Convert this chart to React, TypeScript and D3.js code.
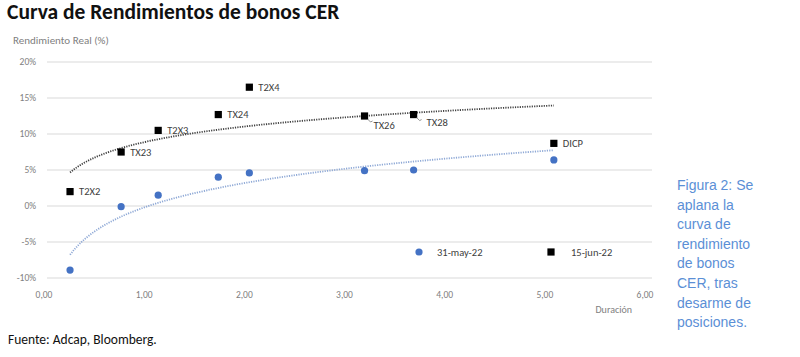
import React from "react";
import * as d3 from "d3";

const bonds = ["T2X2", "TX23", "T2X3", "TX24", "T2X4", "TX26", "TX28", "DICP"];
const duration = [0.26, 0.77, 1.14, 1.74, 2.05, 3.2, 3.69, 5.09];
const yieldJun = [2.0, 7.5, 10.5, 12.7, 16.5, 12.5, 12.7, 8.7];
const yieldMay = [-8.9, -0.1, 1.5, 4.0, 4.6, 4.9, 5.0, 6.4];
const yTicks = [-10, -5, 0, 5, 10, 15, 20];
const xTicks = [0, 1, 2, 3, 4, 5, 6];
const seriesNames = ["31-may-22", "15-jun-22"];
const noteLines = ["Figura 2: Se", "aplana la", "curva de", "rendimiento", "de bonos", "CER, tras", "desarme de", "posiciones."];

function logFit(xs: number[], ys: number[]) {
  const lx = xs.map(Math.log);
  const mx = d3.mean(lx)!;
  const my = d3.mean(ys)!;
  let sxy = 0, sxx = 0;
  lx.forEach((v, i) => { sxy += (v - mx) * (ys[i] - my); sxx += (v - mx) ** 2; });
  const b = sxy / sxx;
  const a = my - b * mx;
  return (x: number) => a + b * Math.log(x);
}

export default function App() {
  const W = 800, H = 357;
  const x = d3.scaleLinear().domain([0, 6]).range([44, 645]);
  const y = d3.scaleLinear().domain([-10, 20]).range([278, 62]);
  const fJun = logFit(duration, yieldJun);
  const fMay = logFit(duration, yieldMay);
  const xs = d3.range(0, 121).map((i) => duration[0] + (duration[duration.length - 1] - duration[0]) * i / 120);
  const line = (f: (v: number) => number) =>
    d3.line<number>().x((d) => x(d)).y((d) => y(f(d))).curve(d3.curveLinear)(xs) || "";
  const font = "Calibri, Carlito, 'Open Sans', 'Liberation Sans', sans-serif";
  const labelOffsets: Record<string, [number, number, boolean]> = {
    TX26: [9, 10, true],
    TX28: [13, 8, true],
  };
  return (
    <svg width={W} height={H} style={{ position: "absolute", left: 0, top: 0, background: "#fff" }} fontFamily={font}>
      <text x={7} y={19} fontSize={21.5} fontWeight="bold" fill="#111">Curva de Rendimientos de bonos CER</text>
      <text x={13} y={44} fontSize={11} fill="#808080">Rendimiento Real (%)</text>
      {yTicks.map((t) => (
        <g key={t}>
          <line x1={47} x2={652} y1={y(t)} y2={y(t)} stroke="#d9d9d9" strokeWidth={1.2} />
          <text x={36} y={y(t) + 3} fontSize={9.5} fill="#808080" textAnchor="end">{t}%</text>
        </g>
      ))}
      {xTicks.map((t) => (
        <text key={t} x={x(t)} y={298} fontSize={9.5} fill="#808080" textAnchor="middle">{t.toFixed(2).replace(".", ",")}</text>
      ))}
      <text x={632} y={313} fontSize={10} fill="#808080" textAnchor="end">Duración</text>
      <path d={line(fJun)} fill="none" stroke="#404040" strokeWidth={1.8} strokeDasharray="1.2 1.2" />
      <path d={line(fMay)} fill="none" stroke="#8fa9d6" strokeWidth={1.8} strokeDasharray="1.2 1.2" />
      {duration.map((d, i) => (
        <circle key={"m" + i} cx={x(d)} cy={y(yieldMay[i])} r={3.6} fill="#4472c4" />
      ))}
      {duration.map((d, i) => (
        <rect key={"j" + i} x={x(d) - 3.6} y={y(yieldJun[i]) - 3.6} width={7.2} height={7.2} fill="#000" />
      ))}
      {bonds.map((b, i) => {
        const off = labelOffsets[b];
        const px = x(duration[i]), py = y(yieldJun[i]);
        if (off) {
          return (
            <g key={b}>
              <path d={`M${px + 3},${py + 3} L${px + 6},${py + 6} L${px + 8},${py + 5}`} fill="none" stroke="#777" strokeWidth={0.8} />
              <text x={px + off[0]} y={py + off[1] + 3} fontSize={10.5} fill="#404040">{b}</text>
            </g>
          );
        }
        return <text key={b} x={px + 9} y={py + 3.5} fontSize={10.5} fill="#404040">{b}</text>;
      })}
      <circle cx={419} cy={252} r={3.6} fill="#4472c4" />
      <text x={437} y={255.5} fontSize={10.5} fill="#404040">{seriesNames[0]}</text>
      <rect x={547.4} y={248.4} width={7.2} height={7.2} fill="#000" />
      <text x={571} y={255.5} fontSize={10.5} fill="#404040">{seriesNames[1]}</text>
      <text x={8} y={344} fontSize={13.5} fill="#111">Fuente: Adcap, Bloomberg.</text>
      {noteLines.map((l, i) => (
        <text key={l} x={677} y={190 + i * 19.6} fontSize={14} fill="#5b8fd6" fontFamily="'Liberation Sans', Arial, sans-serif">{l}</text>
      ))}
    </svg>
  );
}
